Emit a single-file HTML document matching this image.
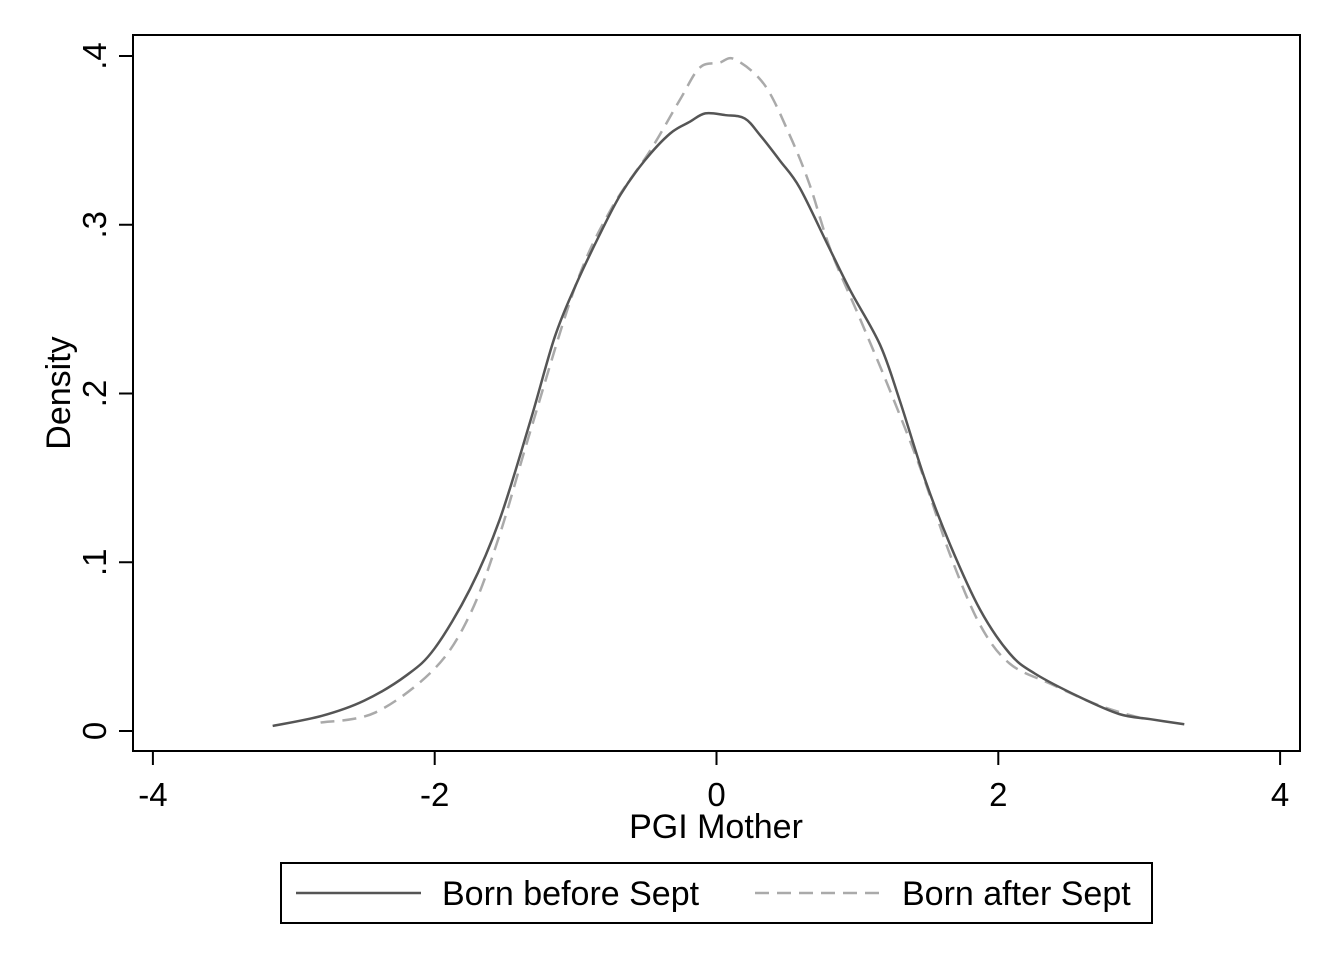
<!DOCTYPE html>
<html><head><meta charset="utf-8"><style>
html,body{margin:0;padding:0;background:#fff;}
svg{display:block;font-family:"Liberation Sans",Arial,sans-serif;}
</style></head><body>
<svg id="chart" width="1336" height="971" viewBox="0 0 1336 971">
<rect x="133" y="35" width="1167" height="716" fill="none" stroke="#000" stroke-width="2"/>
<g id="axes"></g>
<g id="series"></g>
<text x="716" y="838" text-anchor="middle" font-size="34">PGI Mother</text>
<text transform="translate(70,393) rotate(-90)" text-anchor="middle" font-size="34">Density</text>
<g>
<rect x="281" y="863" width="871" height="60" fill="none" stroke="#000" stroke-width="2"/>
<line x1="296" y1="893" x2="421" y2="893" stroke="#555" stroke-width="2.5"/>
<text x="442" y="905" font-size="34">Born before Sept</text>
<line x1="755" y1="893" x2="880" y2="893" stroke="#aaa" stroke-width="2.5" stroke-dasharray="14,8"/>
<text x="902" y="905" font-size="34">Born after Sept</text>
</g>
</svg>
<script>
const xTicks=[-4,-2,0,2,4];
const xTickLabels=["-4","-2","0","2","4"];
const yTicks=[0,0.1,0.2,0.3,0.4];
const yTickLabels=["0",".1",".2",".3",".4"];
const beforeX=[-3.15,-2.8,-2.5,-2.2,-2,-1.75,-1.54,-1.32,-1.15,-1.0,-0.83,-0.68,-0.51,-0.33,-0.19,-0.08,0.06,0.2,0.31,0.45,0.59,0.79,0.95,1.16,1.3,1.48,1.66,1.87,2.08,2.26,2.58,2.86,3.08,3.32];
const beforeY=[0.003,0.009,0.018,0.033,0.049,0.084,0.125,0.184,0.233,0.264,0.294,0.318,0.338,0.354,0.361,0.366,0.365,0.363,0.353,0.338,0.322,0.288,0.261,0.229,0.196,0.149,0.110,0.072,0.046,0.034,0.020,0.010,0.007,0.004];
const afterX=[-2.81,-2.42,-2,-1.75,-1.54,-1.32,-1.0,-0.75,-0.47,-0.26,-0.12,0.02,0.13,0.34,0.52,0.66,0.81,1.02,1.23,1.45,1.66,1.87,2.08,2.37,2.72,3.04];
const afterY=[0.005,0.011,0.037,0.069,0.116,0.178,0.264,0.309,0.344,0.374,0.393,0.396,0.398,0.383,0.353,0.324,0.285,0.244,0.202,0.155,0.104,0.063,0.040,0.028,0.015,0.007];
const NS="http://www.w3.org/2000/svg";
const sx=v=>716.5+v*140.9;
const sy=v=>731-v*1687.5;
const axes=document.getElementById('axes');
function mk(t,a){const e=document.createElementNS(NS,t);for(const k in a)e.setAttribute(k,a[k]);return e;}
xTicks.forEach((v,i)=>{
 const l=mk('line',{x1:sx(v),x2:sx(v),y1:751,y2:765,stroke:'#000','stroke-width':2});
 
 
 axes.appendChild(l);
 const t=mk('text',{x:sx(v),y:806,'text-anchor':'middle','font-size':33});
 
 
 t.textContent=xTickLabels[i];axes.appendChild(t);
});
yTicks.forEach((v,i)=>{
 const l=mk('line',{x1:119,x2:133,y1:sy(v),y2:sy(v),stroke:'#000','stroke-width':2});
 
 
 axes.appendChild(l);
 const t=mk('text',{transform:`translate(106,${sy(v)}) rotate(-90)`,'text-anchor':'middle','font-size':33});
 
 
 t.textContent=yTickLabels[i];axes.appendChild(t);
});
function path(xs,ys){
 const p=xs.map((x,i)=>[sx(x),sy(ys[i])]);
 let d=`M${p[0][0]},${p[0][1]}`;
 for(let i=0;i<p.length-1;i++){
  const p0=p[i-1]||p[i],p1=p[i],p2=p[i+1],p3=p[i+2]||p2;
  const c1=[p1[0]+(p2[0]-p0[0])/6,p1[1]+(p2[1]-p0[1])/6];
  const c2=[p2[0]-(p3[0]-p1[0])/6,p2[1]-(p3[1]-p1[1])/6];
  d+=`C${c1[0]},${c1[1]} ${c2[0]},${c2[1]} ${p2[0]},${p2[1]}`;
 }
 return d;
}
const ser=document.getElementById('series');
const pa=mk('path',{d:path(afterX,afterY),fill:'none',stroke:'#aaa','stroke-width':2.5,'stroke-dasharray':'14,8'});


ser.appendChild(pa);
const pb=mk('path',{d:path(beforeX,beforeY),fill:'none',stroke:'#555','stroke-width':2.5});


ser.appendChild(pb);
</script>
</body></html>
